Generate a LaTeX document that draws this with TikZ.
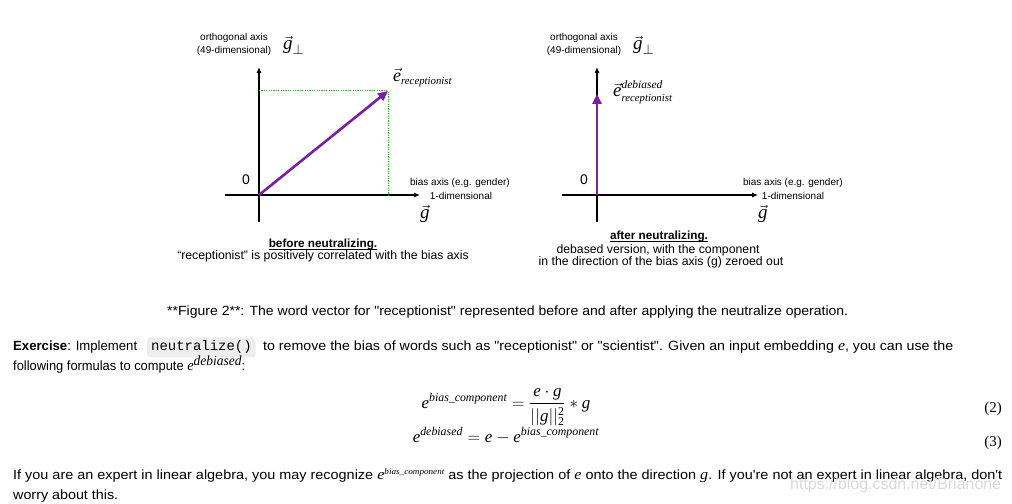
\documentclass[tikz,border=0pt]{standalone}
\usepackage{amsmath}
\usepackage{graphicx}
\usepackage{fontspec}
\setmainfont{Liberation Sans}[Ligatures=TeXOff]
\setmonofont{Liberation Mono}
\newfontfamily\tms{Liberation Serif}[Ligatures=TeXOff]
\usetikzlibrary{arrows.meta}
\definecolor{vpurple}{HTML}{7B1FA2}
\definecolor{dgreen}{HTML}{22B522}
\definecolor{codebg}{HTML}{EEEEEE}
\definecolor{wm}{HTML}{DADADA}
\newcommand\mi[1]{\text{\tms\itshape #1}}
\newcommand\ie[1]{{\tms\itshape\fontsize{15}{16}\selectfont #1}}
\newcommand\smallit[2]{\text{\fontsize{#1}{#1}\selectfont\tms\itshape #2}}
\newcommand\fitw[2]{\resizebox{#1bp}{\height}{#2}}
\begin{document}
\begin{tikzpicture}[x=1bp,y=-1bp,
  lbl/.style={font=\fontsize{10}{12}\selectfont, inner sep=0pt},
  captext/.style={font=\fontsize{12.3}{14}\selectfont, inner sep=0pt, anchor=base},
  captitle/.style={font=\fontsize{11.8}{14}\selectfont\bfseries, inner sep=0pt, anchor=base},
  uline/.style={line width=0.9bp},
  vlab/.style={font=\fontsize{19}{22}\selectfont, inner sep=0pt, anchor=base west},
  zerolbl/.style={font=\fontsize{14}{16}\selectfont, inner sep=0pt},
  axisline/.style={line width=1.1bp, -{Latex[length=6bp,width=5bp]}},
  purplevec/.style={vpurple, line width=2.6bp, -{Triangle[length=10bp,width=9bp]}},
  proj/.style={dgreen, line width=1bp, dash pattern=on 1.2bp off 1.2bp},
  bodytext/.style={font=\fontsize{13.4}{16}\selectfont, inner sep=0pt, anchor=base west},
  eqn/.style={font=\fontsize{17}{20}\selectfont, inner sep=0pt, anchor=base},
  eqnum/.style={font=\tms\fontsize{15}{16}\selectfont, inner sep=0pt, anchor=base east},
]
\useasboundingbox[fill=white] (0,0) rectangle (1012,504);

% ---------- left diagram ----------
\coordinate (O1) at (259,195);
\coordinate (Y1top) at (259,67);
\coordinate (Y1bot) at (259,222);
\coordinate (X1left) at (225,195);
\coordinate (X1right) at (420,195);
\coordinate (E1) at (388,91);
\coordinate (E1x) at (388,195);
\coordinate (E1y) at (259,91);
\draw[axisline] (Y1bot) -- (Y1top);
\draw[axisline] (X1left) -- (X1right);
\draw[proj] (E1y) -- (E1) -- (E1x);
\draw[purplevec] (O1) -- (E1);

\node[lbl] (orth1) at (234,37.5) {orthogonal axis};
\node[lbl] (dim1) at (234,51) {(49-dimensional)};
\node[vlab] (gp1) at (283,50) {$\vec{\mi{g}}_{\perp}$};
\node[zerolbl] (zero1) at (246,180) {0};
\node[lbl, anchor=west] (bias1) at (410,183) {bias axis (e.g. gender)};
\node[lbl] (onedim1) at (461,196) {1-dimensional};
\node[vlab] (g1) at (420,219) {$\vec{\mi{g}}$};
\node[vlab, font=\fontsize{18}{20}\selectfont] (e1) at (393,82) {$\vec{\mi{e}}_{\smallit{10.8}{receptionist}}$};
\node[captitle] (t1) at (323,247.5) {before neutralizing.};
\draw[uline] ([yshift=-1.8bp]t1.base west) -- ([yshift=-1.8bp]t1.base east);
\node[captext] (c1) at (323,260) {“receptionist” is positively correlated with the bias axis};

% ---------- right diagram ----------
\coordinate (O2) at (597,195);
\coordinate (Y2top) at (597,67);
\coordinate (Y2bot) at (597,222);
\coordinate (X2left) at (562,195);
\coordinate (X2right) at (758,195);
\coordinate (E2) at (597,94);
\draw[axisline] (Y2bot) -- (Y2top);
\draw[axisline] (X2left) -- (X2right);
\draw[purplevec] (O2) -- (E2);

\node[lbl] (orth2) at (584,37.5) {orthogonal axis};
\node[lbl] (dim2) at (584,51) {(49-dimensional)};
\node[vlab] (gp2) at (633,50) {$\vec{\mi{g}}_{\perp}$};
\node[zerolbl] (zero2) at (584,180) {0};
\node[lbl, anchor=west] (bias2) at (743,183) {bias axis (e.g. gender)};
\node[lbl] (onedim2) at (793,196) {1-dimensional};
\node[vlab] (g2) at (758,219) {$\vec{\mi{g}}$};
\node[vlab] (e2) at (613,97) {$\vec{\mi{e}}^{\smallit{11.5}{debiased}}_{\smallit{10.8}{receptionist}}$};
\node[captitle] (t2) at (659,240) {after neutralizing.};
\draw[uline] ([yshift=-1.8bp]t2.base west) -- ([yshift=-1.8bp]t2.base east);
\node[captext] (c2a) at (658,253.5) {debased version, with the component};
\node[captext] (c2b) at (661,266) {in the direction of the bias axis (g) zeroed out};

% ---------- text ----------
\node[bodytext, anchor=base west] (figcap) at (167,316) {\fitw{681}{**Figure 2**: The word vector for "receptionist" represented before and after applying the neutralize operation.}};

\node[bodytext] (ex1) at (13,351) {\fitw{124}{\textbf{Exercise}: Implement}};
\node[bodytext, font=\fontsize{14}{16}\selectfont\ttfamily, fill=codebg, rounded corners=3bp, inner xsep=4bp, inner ysep=3.5bp] (code) at (147,351) {neutralize()};
\node[bodytext] (ex2) at (263,351) {\fitw{690}{to remove the bias of words such as "receptionist" or "scientist". Given an input embedding \ie{e}, you can use the}};
\node[bodytext] (fol) at (13,371) {\fitw{232}{following formulas to compute \ie{e}\raisebox{5.5bp}{\tms\itshape\fontsize{14}{14}\selectfont debiased}:}};

\node[eqn] (eq2) at (506,408) {$\mi{e}^{\mi{bias\_component}} = \dfrac{\mi{e}\cdot\mi{g}\rule[-2bp]{0pt}{1pt}}{\rule{0pt}{15bp}||\mi{g}||_{\text{\tms 2}}^{\text{\tms 2}}} * \mi{g}$};
\node[eqn] (eq3) at (506,442) {$\mi{e}^{\mi{debiased}} = \mi{e} - \mi{e}^{\mi{bias\_component}}$};
\node[eqnum] (n2) at (1002,412) {(2)};
\node[eqnum] (n3) at (1002,446) {(3)};

\node[bodytext] (p1) at (13,479) {\fitw{989}{If you are an expert in linear algebra, you may recognize \ie{e}\raisebox{5bp}{\tms\itshape\fontsize{8.5}{9}\selectfont bias\_component} as the projection of \ie{e} onto the direction \ie{g}. If you're not an expert in linear algebra, don't}};
\node[bodytext] (p2) at (13,499) {\fitw{105}{worry about this.}};

\node[font=\fontsize{16}{18}\selectfont, text=wm, inner sep=0pt, anchor=base west] (wmark) at (790,489) {https://blog.csdn.net/Brianone};
\end{tikzpicture}
\end{document}
